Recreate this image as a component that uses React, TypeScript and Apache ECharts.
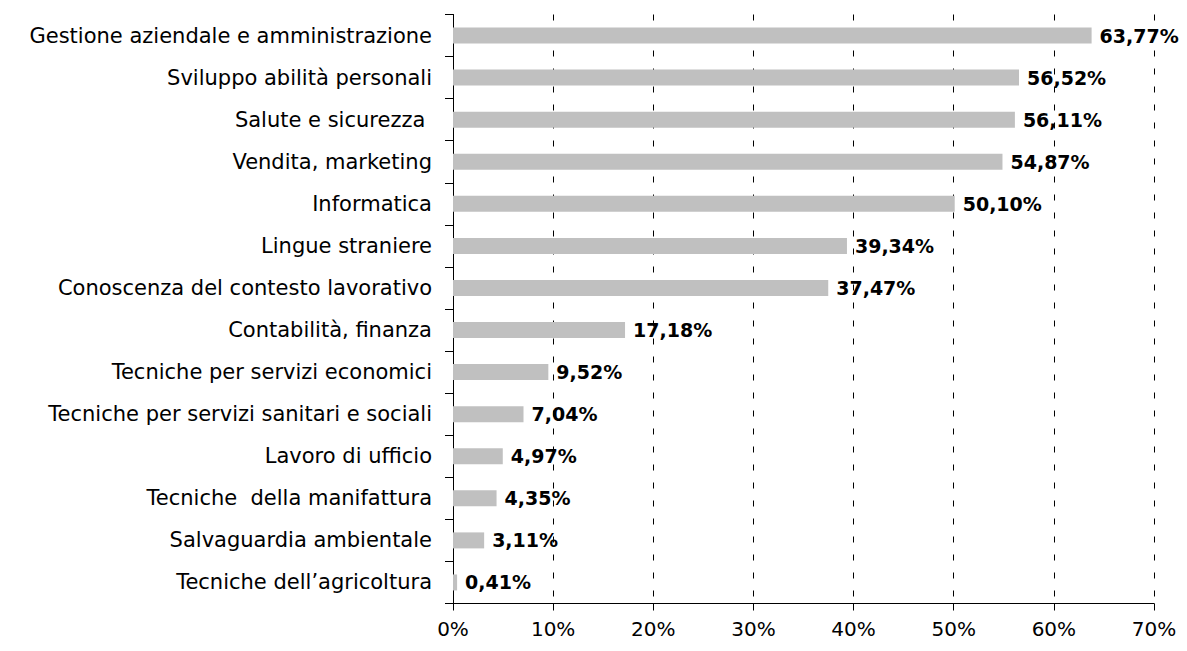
import React, { useEffect, useRef } from "react";
import * as echarts from "echarts";

const categories = [
  "Gestione aziendale e amministrazione",
  "Sviluppo abilità personali",
  "Salute e sicurezza ",
  "Vendita, marketing",
  "Informatica",
  "Lingue straniere",
  "Conoscenza del contesto lavorativo",
  "Contabilità, finanza",
  "Tecniche per servizi economici",
  "Tecniche per servizi sanitari e sociali",
  "Lavoro di ufficio",
  "Tecniche  della manifattura",
  "Salvaguardia ambientale",
  "Tecniche dell’agricoltura",
];

const values = [63.77, 56.52, 56.11, 54.87, 50.1, 39.34, 37.47, 17.18, 9.52, 7.04, 4.97, 4.35, 3.11, 0.41];

const xTicks = [0, 10, 20, 30, 40, 50, 60, 70];

const FONT = "'DejaVu Sans', 'Liberation Sans', Arial, sans-serif";

export default function App() {
  const ref = useRef<HTMLDivElement>(null);

  useEffect(() => {
    document.body.style.margin = "0";
    if (!ref.current) return;
    const chart = echarts.init(ref.current, undefined, { renderer: "svg" });
    chart.setOption({
      animation: false,
      backgroundColor: "#ffffff",
      grid: { left: 453, right: 33, top: 14.5, bottom: 47.5, containLabel: false },
      xAxis: {
        type: "value",
        min: xTicks[0],
        max: xTicks[xTicks.length - 1],
        interval: 10,
        axisLine: { show: true, lineStyle: { color: "#000", width: 1 } },
        axisTick: { show: true, length: 7, inside: false, lineStyle: { color: "#000" } },
        axisLabel: {
          formatter: (v: number) => `${v}%`,
          color: "#000",
          fontFamily: FONT,
          fontSize: 20,
          margin: 15,
        },
        splitLine: {
          show: true,
          lineStyle: { color: "#000", width: 1, type: [6, 12] },
        },
      },
      yAxis: {
        type: "category",
        inverse: true,
        data: categories,
        axisLine: { show: true, lineStyle: { color: "#000", width: 1 } },
        axisTick: { show: true, length: 8, lineStyle: { color: "#000" } },
        axisLabel: {
          color: "#000",
          fontFamily: FONT,
          fontSize: 21,
          margin: 21,
          interval: 0,
        },
        splitLine: { show: false },
      },
      series: [
        {
          type: "bar",
          data: values,
          barWidth: 16,
          itemStyle: { color: "#C0C0C0" },
          label: {
            show: true,
            position: "right",
            distance: 8,
            color: "#000",
            fontFamily: FONT,
            fontWeight: "bold",
            fontSize: 19,
            formatter: (p: any) => `${p.value.toFixed(2).replace(".", ",")}%`,
          },
        },
      ],
    });
    return () => chart.dispose();
  }, []);

  return <div ref={ref} style={{ width: 1187, height: 651 }} />;
}
